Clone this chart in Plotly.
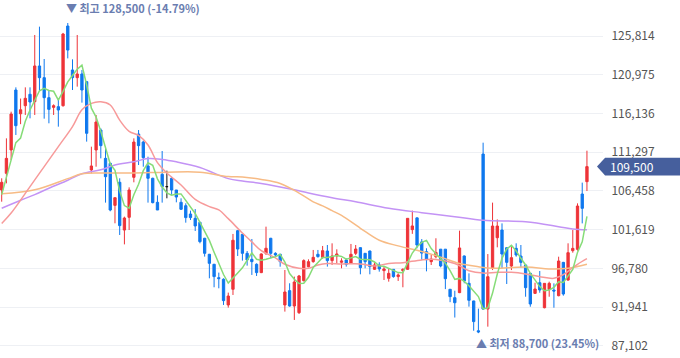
import plotly.graph_objects as go
import pandas as pd

# ---- daily OHLC (KRW) ----
opens = [106580,108660,111580,119070,116100,117110,118530,117610,122070,120610,
         118110,116900,116990,117110,127060,121570,120610,121070,120110,109080,
         111580,114070,110530,109910,104660,107540,101580,103170,108160,113570,
         112570,109580,108040,105040,108540,107000,108040,106580,105040,104620,
         103580,103040,102540,100550,98550,97300,95630,95430,92220,94180,
         101500,101040,98670,97920,97300,96260,98670,100550,98670,98550,
         92220,94010,92090,91260,95260,97000,97630,98550,98170,98960,
         97760,98340,97550,97840,97420,98670,99380,98670,98960,96670,
         97220,96510,95550,96670,95760,96510,96670,101630,103100,100100,
         98880,97630,98250,99190,99190,94180,93130,93760,98340,94930,
         92720,89000,111070,91710,96790,100620,101580,99370,97080,99290,
         98330,97210,96170,93670,95000,91880,94170,94080,93380,97540,
         95330,99000,99170,106080,107620]
highs = [108040,113030,116360,119400,118000,119400,119400,125940,126980,122940,
         119070,117280,117900,126200,128500,122900,125940,121570,120190,111990,
         115950,114280,111990,109990,105620,108040,103250,106910,113030,114070,
         112740,110740,108120,105910,111450,108990,108240,106580,105540,104920,
         104000,104200,102600,100600,98600,97350,96260,95550,93760,101090,
         101590,101100,98960,100460,97420,98670,102000,100600,98800,98600,
         96590,94930,95760,95970,97920,97920,99090,99090,99590,99710,
         99920,99170,98050,98050,99840,99710,99400,98700,99000,97550,
         97550,97010,96720,96700,96170,96800,103040,104000,103130,100450,
         99300,98460,100550,99200,99200,94200,94000,101500,98400,96170,
         92750,91760,112490,98580,105000,102910,102410,99400,99500,99920,
         99710,97250,96200,95000,96460,94950,95130,94920,98250,97600,
         99920,101580,104910,107500,111490]
lows = [105120,107410,110330,113450,114800,115950,115530,115950,119070,115490,
        114910,115950,114490,116990,123020,119070,119490,117490,112620,108660,
        109490,110530,105000,103920,102420,100960,99790,101580,107540,109700,
        109490,105000,104910,104080,105000,105540,105960,105040,104080,102500,
        102830,101460,99920,98260,95550,94430,94300,92220,91890,93470,
        98340,97760,97130,95970,95840,96200,98460,98050,98300,97000,
        91390,92010,90350,91090,95150,96920,97500,98130,98000,97010,
        97220,97420,96800,97010,97340,98460,96050,96800,96050,96590,
        96380,95340,95130,95630,95220,94430,96600,101100,99300,97860,
        96420,97210,98050,96920,94200,92570,90650,93700,94930,92010,
        89000,88700,91600,89510,96580,99420,96790,94840,96580,98250,
        96920,93250,92000,93590,93750,91800,93250,91880,93300,93380,
        95250,98750,99000,102410,106450]
closes = [107540,110530,116070,114610,116600,118030,117570,122070,120610,118110,
          116650,117110,116570,126060,124060,120610,121070,119070,113660,109580,
          115070,112120,108240,104080,105620,102130,103080,106580,112570,112120,
          110620,108040,105000,104080,107000,107000,106580,105700,104170,103130,
          103130,102090,100130,98670,97420,95760,95510,92760,93340,100300,
          99210,98670,97840,97630,96260,98590,99300,98670,98460,97630,
          93840,92090,95090,95840,97760,97630,98170,98260,99000,97760,
          98340,98590,97720,97300,98550,99210,96880,97630,97010,97220,
          96720,96720,96170,95760,95970,96670,103040,102090,99710,98700,
          97880,97950,98780,97090,95500,93260,92500,99340,95220,92800,
          90140,88850,91710,95750,102080,102080,98580,97540,98130,98460,
          97540,94380,92340,94210,94090,94920,94920,93960,97710,93590,
          98750,99290,104580,104290,109500]
doji_days = [35]

# ---- moving-average lines ----
ma5_head = [106000, 108200, 110600, 112500]
ma20_idx = [0, 2, 6, 9, 12, 15, 17, 19, 21, 23, 25, 27, 29, 31, 33, 35, 38, 41, 44, 46,
            48, 51, 53, 55, 58, 60, 63, 65, 67, 69, 72, 76, 79, 82, 85, 89, 92, 96, 99,
            102, 105, 108, 111, 114, 117, 119, 121, 122, 124]
ma20_val = [102400, 103700, 107000, 109500, 112000, 114500, 116600, 117400, 117600, 117200,
            115300, 113900, 113400, 112200, 110000, 108700, 107200, 105400, 104500, 104100,
            103000, 101200, 100100, 99000, 98100, 97300, 96800, 96800, 97200, 97400,
            97350, 97350, 97100, 97400, 97500, 97850, 97900, 97400, 96500,
            96200, 96300, 96300, 96100, 95750, 95550, 96000, 96900, 97300, 98000]
ma60_idx = [0, 7, 14, 17, 21, 28, 35, 42, 48, 51, 55, 59, 63, 66, 68, 70, 72, 76, 80, 84,
            89, 93, 97, 101, 104, 111, 117, 120, 124]
ma60_val = [106100, 106600, 108000, 108600, 108700, 108700, 108800, 108800, 108250, 108200,
            107900, 107400, 106200, 105100, 104600, 104000, 103400, 101800, 100300, 99600,
            98900, 98200, 97400, 97000, 96800, 96950, 96700, 96800, 97300]
ma120_idx = [0, 4, 7, 10, 14, 17, 21, 24, 28, 31, 34, 37, 42, 48, 51, 55, 62, 65, 70, 75,
             82, 89, 96, 102, 111, 118, 121, 124]
ma120_val = [104300, 105300, 106000, 106800, 107800, 108600, 109100, 109700, 110100, 110500,
             110400, 110100, 109400, 108000, 107700, 107400, 106600, 106200, 105600, 105100,
             104300, 103750, 103250, 102800, 102600, 102000, 101700, 101600]

tick_vals = [87102, 91941, 96780, 101619, 106458, 111297, 116136, 120975, 125814]
tick_text = ["87,102", "91,941", "96,780", "101,619", "106,458", "111,297", "116,136",
             "120,975", "125,814"]
last_price = 109500
high_text = "▼ 최고 128,500 (-14.79%)"
low_text = "▲ 최저 88,700 (23.45%)"
high_day, low_day = 14, 101

n = len(closes)
days = list(range(n))
ma5 = ma5_head + list(pd.Series(closes).rolling(5).mean().iloc[len(ma5_head):])

RED = "#ee3338"
BLUE = "#0f78ee"
main = [i for i in days if i not in doji_days]

fig = go.Figure()
fig.add_trace(go.Candlestick(
    x=[days[i] for i in main], open=[opens[i] for i in main], high=[highs[i] for i in main],
    low=[lows[i] for i in main], close=[closes[i] for i in main],
    increasing=dict(line=dict(color=RED, width=1), fillcolor=RED),
    decreasing=dict(line=dict(color=BLUE, width=1), fillcolor=BLUE),
    whiskerwidth=0, hoverinfo="skip"))
fig.add_trace(go.Candlestick(
    x=[days[i] for i in doji_days], open=[opens[i] for i in doji_days],
    high=[highs[i] for i in doji_days], low=[lows[i] for i in doji_days],
    close=[closes[i] for i in doji_days],
    increasing=dict(line=dict(color="#111111", width=1), fillcolor="#111111"),
    decreasing=dict(line=dict(color="#111111", width=1), fillcolor="#111111"),
    whiskerwidth=0, hoverinfo="skip"))

for xs, ys, col, shape in [
    (ma120_idx, ma120_val, "#c393f5", "spline"),
    (ma60_idx, ma60_val, "#f7bb85", "spline"),
    (ma20_idx, ma20_val, "#f79a9a", "spline"),
    (days, ma5, "#86dc78", "linear"),
]:
    fig.add_trace(go.Scatter(x=xs, y=ys, mode="lines",
                             line=dict(color=col, width=1.5, shape=shape),
                             hoverinfo="skip"))

font = "Noto Sans CJK KR, Noto Sans, sans-serif"
fig.update_layout(
    width=680, height=358,
    margin=dict(l=0, r=77, t=23, b=8),
    paper_bgcolor="white", plot_bgcolor="white",
    showlegend=False, hovermode=False,
    font=dict(family=font, size=12, color="#555555"),
    xaxis=dict(range=[-0.36, 127.4], showgrid=False, zeroline=False,
               showticklabels=False, rangeslider=dict(visible=False), fixedrange=True),
    yaxis=dict(range=[86595, 127438], side="right", tickvals=tick_vals, ticktext=tick_text,
               showgrid=True, gridcolor="#eef0f4", gridwidth=1, zeroline=False,
               ticks="outside", ticklen=5, tickcolor="rgba(0,0,0,0)",
               tickfont=dict(size=12, color="#555555"), fixedrange=True),
)

# current price tag
yt, yb = last_price + 1120, last_price - 1120
fig.add_shape(type="path", xref="paper", yref="y",
              path=f"M 0.990,{last_price} L 1.0035,{yt} L 1.13,{yt} L 1.13,{yb} L 1.0035,{yb} Z",
              fillcolor="#465f9d", line=dict(width=0), layer="above")
fig.add_annotation(x=1.0085, xref="paper", y=last_price, yref="y", text=f"{last_price:,}",
                   showarrow=False, xanchor="left", yanchor="middle",
                   font=dict(size=12, color="white", family=font))

# high / low markers
fig.add_annotation(x=high_day, xref="x", y=1.046, yref="paper", text=f"<b>{high_text}</b>",
                   showarrow=False, xanchor="left", yanchor="middle", xshift=-4,
                   font=dict(size=11, color="#6a7db0", family=font))
fig.add_annotation(x=low_day, xref="x", y=0.021, yref="paper", text=f"<b>{low_text}</b>",
                   showarrow=False, xanchor="left", yanchor="middle", xshift=-4,
                   font=dict(size=11, color="#6a7db0", family=font))

fig.write_html("out.html", config={"displayModeBar": False},
               post_script="document.body.style.margin='0';")
